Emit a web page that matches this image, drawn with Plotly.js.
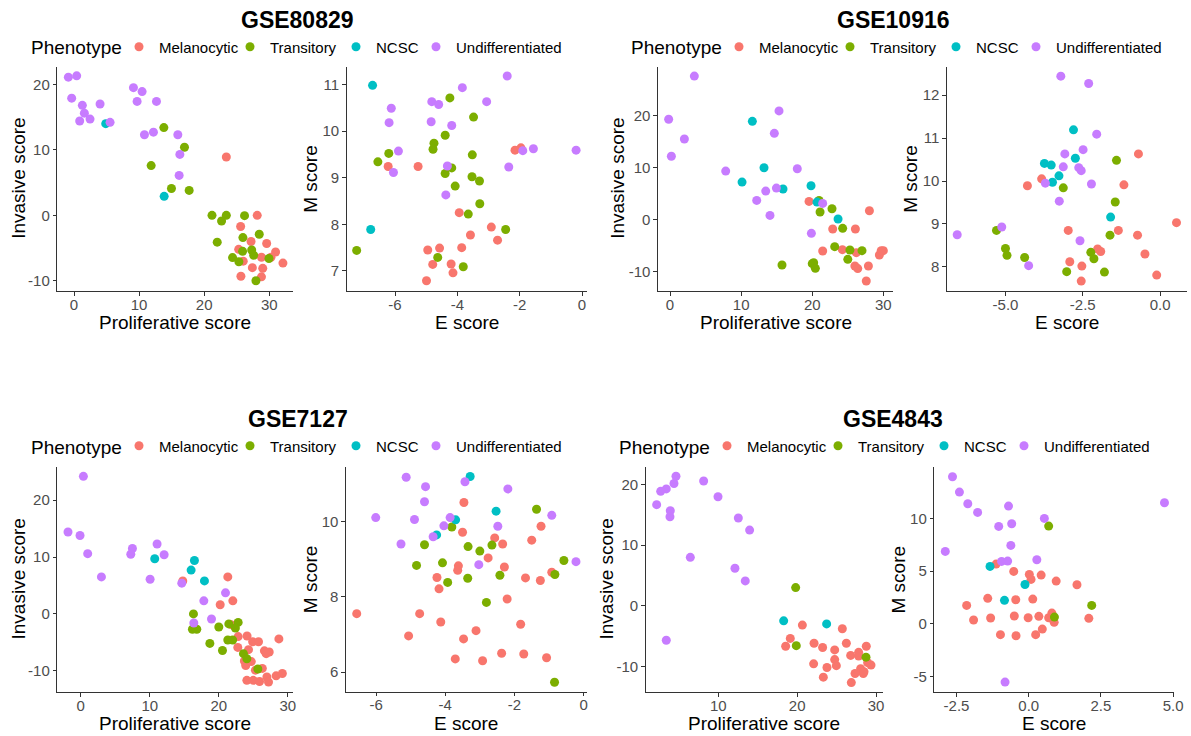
<!DOCTYPE html>
<html>
<head>
<meta charset="utf-8">
<script src="https://cdn.plot.ly/plotly-3.0.1.min.js"></script>
<style>html,body{margin:0;padding:0;background:#fff;}#chart{width:1191px;height:736px;}</style>
</head>
<body>
<div id="chart"></div>
<script>
// ---------- categories ----------
const phenotypes = ["Melanocytic", "Transitory", "NCSC", "Undifferentiated"];
const datasets = ["GSE80829", "GSE10916", "GSE7127", "GSE4843"];
const legendTitle = "Phenotype";

// ---------- GSE80829 : Proliferative vs Invasive ----------
const gse80829_prolif_mel = [23.4,28.15,25.6,27.2,25.3,29.6,30.97,32.1,30.26,28.8,26.0,27.4,29.0,25.64,28.8];
const gse80829_inv_mel    = [8.9,0,-1.7,-4.0,-5.2,-4.3,-5.6,-7.3,-6.4,-6.4,-7.0,-8.0,-8.1,-9.3,-9.4];
const gse80829_prolif_tra = [13.8,16.97,11.85,14.97,17.69,21.2,23.4,22.67,26.2,22.0,25.95,28.46,24.36,25.33,25.9,27.3,27.6,29.95,27.95];
const gse80829_inv_tra    = [13.4,10.4,7.6,4.1,3.8,0,0,-0.87,-0.05,-4.1,-3.4,-2.9,-6.46,-7.1,-5.5,-5.3,-6.1,-6.6,-10.0];
const gse80829_prolif_ncsc = [4.87,13.85];
const gse80829_inv_ncsc    = [14.0,2.9];
const gse80829_prolif_und = [-0.87,0.41,-0.36,1.28,1.59,0.87,2.46,4.0,5.54,9.13,10.46,9.69,12.67,10.82,12.2,15.95,16.26,16.15];
const gse80829_inv_und    = [21.1,21.3,17.9,16.8,15.6,14.4,14.7,17.0,14.2,19.5,18.9,17.4,17.4,12.3,12.7,12.3,9.3,6.1];

// ---------- GSE80829 : E vs M ----------
const gse80829_e_mel = [-2.15,-1.96,-6.22,-5.26,-3.94,-2.91,-2.71,-3.58,-3.86,-4.95,-4.57,-4.79,-4.2,-4.14,-4.99];
const gse80829_m_mel = [9.59,9.64,9.24,9.24,8.25,7.94,7.66,7.77,7.5,7.45,7.49,7.14,7.15,6.96,6.79];
const gse80829_e_tra = [-4.24,-3.48,-4.39,-4.75,-4.78,-6.2,-6.55,-3.52,-4.18,-4.39,-3.53,-3.29,-4.07,-3.28,-3.65,-2.45,-7.23,-4.63,-3.81];
const gse80829_m_tra = [10.71,10.3,9.91,9.74,9.61,9.52,9.34,9.49,9.21,9.09,9.02,8.93,8.82,8.44,8.22,7.89,7.44,7.29,7.09];
const gse80829_e_ncsc = [-6.72,-6.78];
const gse80829_m_ncsc = [10.98,7.89];
const gse80829_e_und = [-2.40,-3.84,-3.06,-4.82,-4.60,-6.12,-6.19,-4.84,-4.18,-5.89,-6.05,-4.32,-4.37,-2.35,-1.90,-1.56,-0.19];
const gse80829_m_und = [11.18,10.93,10.63,10.63,10.57,10.49,10.18,10.2,10.12,9.57,9.11,9.25,8.63,9.23,9.58,9.62,9.59];

// ---------- GSE10916 : Proliferative vs Invasive ----------
const gse10916_prolif_mel = [19.55,28.04,22.88,26.07,21.47,24.24,26.2,29.44,30.0,29.7,26.0,26.4,27.9,27.6];
const gse10916_inv_mel    = [3.52,1.73,-1.79,-1.79,-6.01,-5.76,-6.33,-6.78,-5.95,-5.95,-8.9,-9.4,-8.9,-11.77];
const gse10916_prolif_tra = [20.96,21.1,22.78,24.28,23.16,25.3,27.0,25.0,15.75,20.0,20.2,20.44];
const gse10916_inv_tra    = [3.71,1.47,2.11,-1.66,-5.18,-5.82,-5.95,-7.61,-8.7,-8.45,-8.25,-9.34];
const gse10916_prolif_ncsc = [11.58,13.22,10.13,15.89,19.83,20.67,23.63];
const gse10916_inv_ncsc    = [18.9,9.98,7.23,5.89,6.53,3.39,0.13];
const gse10916_prolif_und = [3.42,-0.19,2.02,0.19,15.33,14.67,7.83,17.9,13.46,14.96,12.19,14.06,21.47,19.88];
const gse10916_inv_und    = [27.6,19.3,15.5,12.2,20.9,16.6,9.34,9.79,5.5,6.08,3.71,0.83,3.13,-2.62];

// ---------- GSE10916 : E vs M ----------
const gse10916_e_mel = [-3.83,-4.29,-0.70,-1.17,0.53,-2.97,-1.35,-0.73,-0.49,-2.02,-1.92,-2.92,-2.53,-2.55,-0.11];
const gse10916_m_mel = [10.05,9.89,10.63,9.91,9.03,8.85,8.85,8.74,8.30,8.42,8.36,8.12,8.02,7.67,7.81];
const gse10916_e_tra = [-1.41,-3.13,-1.45,-5.29,-1.62,-5.0,-4.95,-4.38,-2.24,-2.14,-3.02,-1.80];
const gse10916_m_tra = [10.48,9.84,9.51,8.85,8.74,8.43,8.27,8.22,8.34,8.19,7.89,7.88];
const gse10916_e_ncsc = [-2.80,-2.74,-3.74,-3.52,-3.27,-3.48,-1.60];
const gse10916_m_ncsc = [11.19,10.53,10.41,10.37,10.12,9.97,9.16];
const gse10916_e_und = [-3.21,-2.31,-2.05,-2.49,-3.08,-3.13,-2.63,-2.55,-3.71,-2.22,-3.26,-5.12,-6.56,-2.59,-4.25];
const gse10916_m_und = [12.44,12.27,11.09,10.73,10.63,10.33,10.31,10.24,9.95,9.93,9.53,8.93,8.75,8.61,8.03];

// ---------- GSE7127 : Proliferative vs Invasive ----------
const gse7127_prolif_mel = [14.78,21.3,22.03,20.2,21.8,22.8,22.75,24.09,24.9,25.75,24.3,28.7,26.6,27.3,26.86,23.7,23.9,26.3,26.96,24.06,25.0,25.9,27.2,28.3,29.2,25.3,24.7];
const gse7127_inv_mel    = [5.8,6.5,2.3,1.6,-1.9,-4.0,-5.9,-3.9,-4.9,-4.9,-6.3,-4.4,-6.5,-6.7,-7.0,-8.3,-9.1,-9.6,-11.1,-11.7,-11.7,-11.9,-12.0,-10.9,-10.5,-9.9,-8.4];
const gse7127_prolif_tra = [16.33,16.18,16.81,20.0,18.7,20.53,21.45,22.8,22.4,21.3,22.0,23.57,24.06,25.65];
const gse7127_inv_tra    = [0,-2.7,-2.7,-2.3,-5.2,-6.45,-1.76,-1.5,-2.5,-4.6,-4.6,-7.0,-7.9,-9.7];
const gse7127_prolif_ncsc = [10.72,16.47,15.99,17.92];
const gse7127_inv_ncsc    = [9.7,9.4,7.7,5.8];
const gse7127_prolif_und = [0.39,-1.84,-0.1,1.01,3.0,7.49,7.25,11.06,12.08,10.05,14.64,20.97,17.83,16.38,18.94];
const gse7127_inv_und    = [24.2,14.4,13.8,10.6,6.5,11.5,10.5,12.3,10.4,6.1,5.4,3.7,2.3,-1.6,-0.9];

// ---------- GSE7127 : E vs M ----------
const gse7127_e_mel = [-3.46,-3.50,-2.57,-2.34,-1.23,-1.50,-2.76,-3.62,-3.64,-2.29,-4.24,-4.18,-1.68,-1.25,-0.92,-2.21,-6.56,-4.74,-4.13,-5.06,-3.11,-3.47,-1.82,-3.71,-2.92,-2.37,-1.73,-1.07];
const gse7127_m_mel = [10.50,9.71,9.56,9.40,9.87,9.50,9.03,8.82,8.70,8.79,8.51,8.21,8.50,8.43,8.65,7.94,7.55,7.55,7.33,6.96,7.10,6.88,7.27,6.35,6.30,6.50,6.48,6.38];
const gse7127_e_tra = [-3.81,-4.60,-4.83,-4.08,-3.93,-3.34,-3.0,-2.65,-3.35,-2.42,-1.36,-0.57,-0.83,-2.81,-0.84];
const gse7127_m_tra = [9.85,9.38,8.83,8.90,8.38,9.33,9.21,9.37,8.49,8.57,10.32,8.96,8.59,7.85,5.73];
const gse7127_e_ncsc = [-3.28,-3.70,-4.25,-2.53];
const gse7127_m_ncsc = [11.19,10.04,9.64,10.27];
const gse7127_e_und = [-5.13,-4.57,-3.43,-2.19,-4.60,-6.01,-4.89,-3.86,-4.04,-4.35,-5.28,-2.48,-3.03,-0.92,-0.22];
const gse7127_m_und = [11.17,10.92,11.05,10.86,10.52,10.10,10.05,10.10,9.88,9.59,9.40,9.87,8.85,10.16,8.93];

// ---------- GSE4843 : Proliferative vs Invasive ----------
const gse4843_prolif_mel = [20.66,19.13,18.54,22.14,23.23,24.76,25.73,26.24,22.09,23.78,24.76,24.97,23.32,26.79,27.8,28.77,27.8,28.94,28.05,29.37,28.39,27.34,26.87,28.48];
const gse4843_inv_mel    = [-3.2,-5.4,-6.7,-6.2,-6.9,-7.3,-3.8,-6.2,-9.6,-10.2,-8.9,-9.9,-11.8,-8.2,-8.3,-6.7,-7.7,-9.4,-10.4,-9.8,-11.2,-11.2,-12.7,-10.9];
const gse4843_prolif_tra = [19.81,19.89,28.73];
const gse4843_inv_tra    = [3.0,-6.6,-8.5];
const gse4843_prolif_ncsc = [18.29,23.74];
const gse4843_inv_ncsc    = [-2.5,-3.0];
const gse4843_prolif_und = [4.63,4.38,3.40,2.69,2.18,3.91,3.87,8.14,9.96,12.54,13.97,6.45,12.11,13.42,3.40];
const gse4843_inv_und    = [21.4,20.2,19.3,18.9,16.7,15.7,14.7,20.6,18.0,14.5,12.5,8.0,6.2,4.1,-5.7];

// ---------- GSE4843 : E vs M ----------
const gse4843_e_mel = [-1.13,-0.52,0.02,0.08,0.43,0.95,1.67,-1.42,-0.45,0.14,-2.15,-1.91,-1.32,-0.50,-0.02,0.35,0.69,0.80,0.88,2.08,0.47,-0.98,-0.44,0.24];
const gse4843_m_mel = [5.66,4.97,4.68,4.21,4.62,4.05,3.70,2.41,2.28,2.34,1.74,0.35,0.54,0.73,0.57,0.70,0.57,1.01,0.13,0.51,-0.51,-1.04,-1.14,-1.04];
const gse4843_e_tra = [0.69,2.18,0.89];
const gse4843_m_tra = [9.27,1.74,0.63];
const gse4843_e_ncsc = [-1.34,-0.13,-0.84];
const gse4843_m_ncsc = [5.44,3.73,2.22];
const gse4843_e_und = [-2.64,-2.40,-2.11,-1.77,-0.70,0.54,-1.04,-0.59,-2.89,-0.62,-0.94,-0.73,0.28,4.70,-0.82];
const gse4843_m_und = [13.96,12.5,11.39,10.57,11.17,10.0,9.24,9.49,6.87,7.44,5.92,5.95,6.08,11.49,-5.54];

// ---------- tick labels ----------
const ticksProlif30 = [0, 10, 20, 30];
const ticksProlif10_30 = [10, 20, 30];
const ticksInv = [-10, 0, 10, 20];
const ticksE_80829 = [-6, -4, -2, 0];
const ticksM_80829 = [7, 8, 9, 10, 11];
const ticksE_10916 = [-5, -2.5, 0];
const ticksM_10916 = [8, 9, 10, 11, 12];
const ticksE_7127 = [-6, -4, -2, 0];
const ticksM_7127 = [6, 8, 10];
const ticksE_4843 = [-2.5, 0, 2.5, 5];
const ticksM_4843 = [-5, 0, 5, 10];

// ---------- style ----------
const colors = ["#F8766D", "#7CAE00", "#00BFC4", "#C77CFF"];
const legendItemWidths = [66, 61, 35, 110];
const W = 1191, H = 736;
const px = v => v / W;
const py = v => 1 - v / H;
const FONT = "Liberation Sans, Arial, Helvetica, sans-serif";

function label(v, dec) {
  const s = dec ? v.toFixed(1) : String(v);
  return s.replace("\u2212", "-");
}

const panels = [
  {xs: [gse80829_prolif_mel, gse80829_prolif_tra, gse80829_prolif_ncsc, gse80829_prolif_und],
   ys: [gse80829_inv_mel, gse80829_inv_tra, gse80829_inv_ncsc, gse80829_inv_und],
   box: [57.3, 292.7, 66.7, 291], xr: [-2.57, 33.6], yr: [-11.56, 22.7],
   xt: ticksProlif30, yt: ticksInv, xdec: false, ydec: false, legend: "legend",
   xtitle: "Proliferative score", ytitle: "Invasive score", ytx: 19, xty: 322},
  {xs: [gse80829_e_mel, gse80829_e_tra, gse80829_e_ncsc, gse80829_e_und],
   ys: [gse80829_m_mel, gse80829_m_tra, gse80829_m_ncsc, gse80829_m_und],
   box: [346.7, 586.7, 66.7, 291], xr: [-7.55, 0.15], yr: [6.57, 11.38],
   xt: ticksE_80829, yt: ticksM_80829, xdec: false, ydec: false, legend: null,
   xtitle: "E score", ytitle: "M score", ytx: 311, xty: 322},
  {xs: [gse10916_prolif_mel, gse10916_prolif_tra, gse10916_prolif_ncsc, gse10916_prolif_und],
   ys: [gse10916_inv_mel, gse10916_inv_tra, gse10916_inv_ncsc, gse10916_inv_und],
   box: [658, 893.3, 66.7, 291], xr: [-1.69, 31.4], yr: [-13.7, 29.4],
   xt: ticksProlif30, yt: ticksInv, xdec: false, ydec: false, legend: "legend2",
   xtitle: "Proliferative score", ytitle: "Invasive score", ytx: 618, xty: 322},
  {xs: [gse10916_e_mel, gse10916_e_tra, gse10916_e_ncsc, gse10916_e_und],
   ys: [gse10916_m_mel, gse10916_m_tra, gse10916_m_ncsc, gse10916_m_und],
   box: [947, 1186.7, 66.7, 291], xr: [-6.89, 0.86], yr: [7.44, 12.66],
   xt: ticksE_10916, yt: ticksM_10916, xdec: true, ydec: false, legend: null,
   xtitle: "E score", ytitle: "M score", ytx: 911, xty: 322},
  {xs: [gse7127_prolif_mel, gse7127_prolif_tra, gse7127_prolif_ncsc, gse7127_prolif_und],
   ys: [gse7127_inv_mel, gse7127_inv_tra, gse7127_inv_ncsc, gse7127_inv_und],
   box: [57.3, 292.7, 466.7, 692.3], xr: [-3.39, 30.7], yr: [-13.8, 25.9],
   xt: ticksProlif30, yt: ticksInv, xdec: false, ydec: false, legend: "legend3",
   xtitle: "Proliferative score", ytitle: "Invasive score", ytx: 18, xty: 723},
  {xs: [gse7127_e_mel, gse7127_e_tra, gse7127_e_ncsc, gse7127_e_und],
   ys: [gse7127_m_mel, gse7127_m_tra, gse7127_m_ncsc, gse7127_m_und],
   box: [346, 586.7, 466.7, 691.7], xr: [-6.87, 0.09], yr: [5.48, 11.45],
   xt: ticksE_7127, yt: ticksM_7127, xdec: false, ydec: false, legend: null,
   xtitle: "E score", ytitle: "M score", ytx: 310, xty: 723},
  {xs: [gse4843_prolif_mel, gse4843_prolif_tra, gse4843_prolif_ncsc, gse4843_prolif_und],
   ys: [gse4843_inv_mel, gse4843_inv_tra, gse4843_inv_ncsc, gse4843_inv_und],
   box: [645.7, 882.7, 466.7, 692.3], xr: [0.79, 30.85], yr: [-14.3, 22.97],
   xt: ticksProlif10_30, yt: ticksInv, xdec: false, ydec: false, legend: "legend4",
   xtitle: "Proliferative score", ytitle: "Invasive score", ytx: 606, xty: 723},
  {xs: [gse4843_e_mel, gse4843_e_tra, gse4843_e_ncsc, gse4843_e_und],
   ys: [gse4843_m_mel, gse4843_m_tra, gse4843_m_ncsc, gse4843_m_und],
   box: [934.3, 1174.3, 466.7, 692.3], xr: [-3.27, 5.04], yr: [-6.51, 14.91],
   xt: ticksE_4843, yt: ticksM_4843, xdec: true, ydec: false, legend: null,
   xtitle: "E score", ytitle: "M score", ytx: 898, xty: 723}
];

const traces = [];
const layout = {
  width: W, height: H,
  margin: {l: 0, r: 0, t: 0, b: 0, pad: 0},
  paper_bgcolor: "#ffffff", plot_bgcolor: "#ffffff",
  font: {family: FONT, color: "#000"},
  showlegend: true,
  annotations: []
};

function axisBase(domain, range, tv, dec, anchor) {
  return {
    domain: domain, range: range, anchor: anchor,
    showline: true, linecolor: "#333333", linewidth: 1.1,
    ticks: "outside", ticklen: 3.5, tickwidth: 1.1, tickcolor: "#333333",
    showgrid: false, zeroline: false,
    tickvals: tv, ticktext: tv.map(v => label(v, dec)),
    tickfont: {family: FONT, size: 15, color: "#4D4D4D"},
    fixedrange: true
  };
}

panels.forEach((p, i) => {
  const n = i + 1;
  const xa = n === 1 ? "xaxis" : "xaxis" + n;
  const ya = n === 1 ? "yaxis" : "yaxis" + n;
  const xr = n === 1 ? "x" : "x" + n;
  const yr = n === 1 ? "y" : "y" + n;
  layout[xa] = axisBase([px(p.box[0]), px(p.box[1])], p.xr, p.xt, p.xdec, yr);
  layout[xa].ticklabelstandoff = -4;
  layout[ya] = axisBase([py(p.box[3]), py(p.box[2])], p.yr, p.yt, p.ydec, xr);
  layout[ya].ticklabelstandoff = 0;
  for (let k = 0; k < 4; k++) {
    const t = {
      type: "scatter", mode: "markers",
      x: p.xs[k], y: p.ys[k], xaxis: xr, yaxis: yr,
      name: phenotypes[k],
      marker: {color: colors[k], size: 9, line: {width: 0}},
      hoverinfo: "x+y+name",
      showlegend: !!p.legend
    };
    if (p.legend) { t.legend = p.legend; t.legendwidth = legendItemWidths[k]; }
    traces.push(t);
  }
  const cx = (p.box[0] + p.box[1]) / 2;
  const cy = (p.box[2] + p.box[3]) / 2;
  layout.annotations.push({
    text: p.xtitle, xref: "paper", yref: "paper", x: px(cx), y: py(p.xty),
    xanchor: "center", yanchor: "middle", showarrow: false,
    font: {family: FONT, size: 19, color: "#000"}
  });
  layout.annotations.push({
    text: p.ytitle, xref: "paper", yref: "paper", x: px(p.ytx), y: py(cy),
    xanchor: "center", yanchor: "middle", showarrow: false, textangle: -90,
    font: {family: FONT, size: 19, color: "#000"}
  });
});

// dataset titles
const titlePos = [[297, 20], [893, 20], [298, 419], [893, 419]];
datasets.forEach((d, i) => {
  layout.annotations.push({
    text: "<b>" + d + "</b>", xref: "paper", yref: "paper",
    x: px(titlePos[i][0]), y: py(titlePos[i][1]),
    xanchor: "center", yanchor: "middle", showarrow: false,
    font: {family: FONT, size: 23, color: "#000"}
  });
});

// legends (title drawn as text to the left of the items)
const legendPos = [[32, 47], [632, 47], [32, 446], [620, 446]];
const legendNames = ["legend", "legend2", "legend3", "legend4"];
legendPos.forEach((lp, i) => {
  layout.annotations.push({
    text: legendTitle, xref: "paper", yref: "paper", x: px(lp[0] - 3), y: py(lp[1] + 1),
    xanchor: "left", yanchor: "middle", showarrow: false,
    font: {family: FONT, size: 19, color: "#000"}
  });
  layout[legendNames[i]] = {
    orientation: "h", x: px(lp[0] + 87), y: py(lp[1]), xanchor: "left", yanchor: "middle",
    bgcolor: "rgba(0,0,0,0)", borderwidth: 0, itemwidth: 30,
    traceorder: "normal", itemclick: false, itemdoubleclick: false,
    font: {family: FONT, size: 15, color: "#000"}
  };
});

Plotly.newPlot("chart", traces, layout, {displayModeBar: false, responsive: false});
</script>
</body>
</html>
